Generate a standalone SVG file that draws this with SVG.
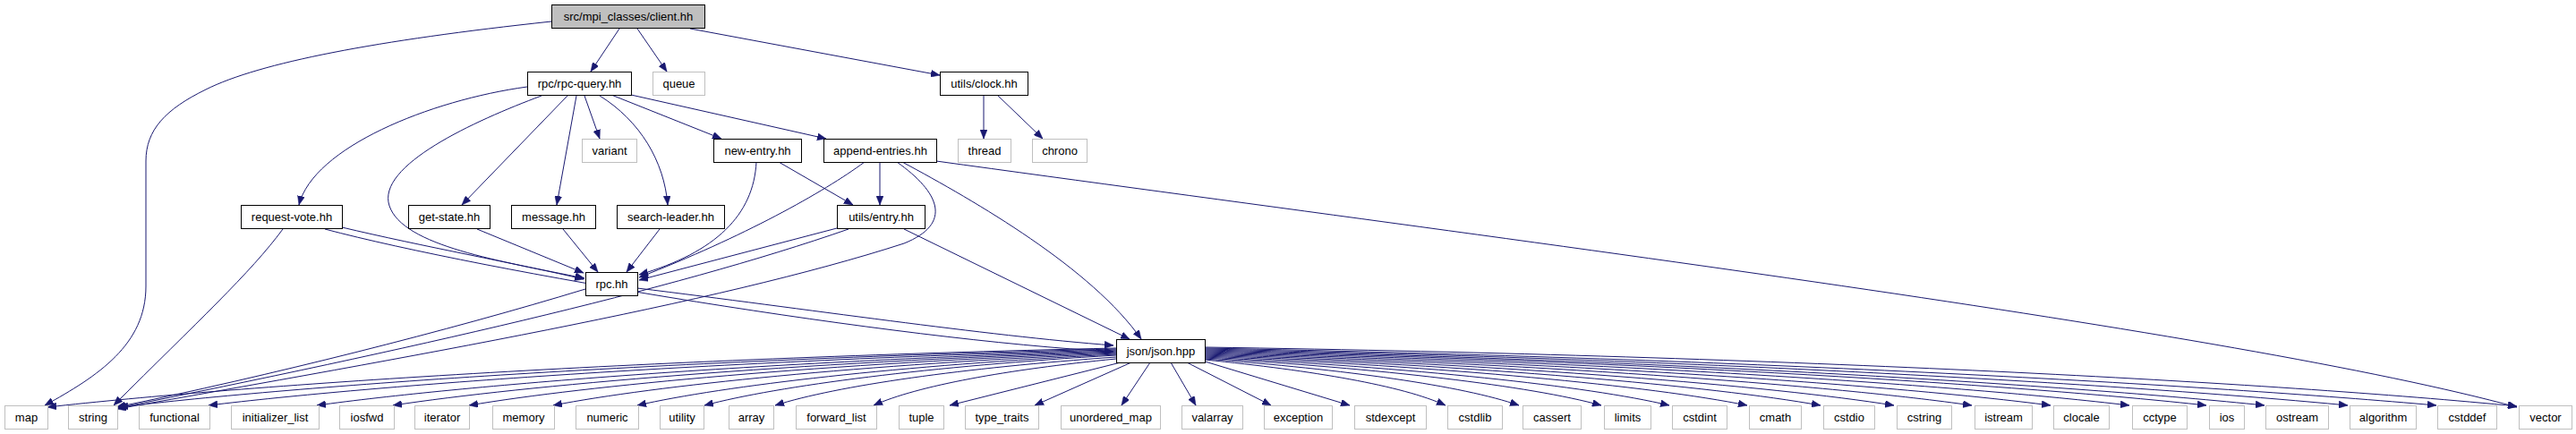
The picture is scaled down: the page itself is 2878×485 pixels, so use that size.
<svg xmlns="http://www.w3.org/2000/svg" width="2878" height="485" viewBox="0 0 2878 485">
<style>
.n rect{fill:#fff;stroke:#000;stroke-width:1}
.x rect{fill:#fff;stroke:#bfbfbf;stroke-width:1}
.root rect{fill:#bfbfbf;stroke:#000;stroke-width:1}
text{font-family:"Liberation Sans",Arial,sans-serif;font-size:13px;fill:#000;text-anchor:middle}
.e path{fill:none;stroke:#191970;stroke-width:1;marker-end:url(#ah)}
</style>
<defs>
<marker id="ah" viewBox="0 0 10 8" refX="10" refY="4" markerWidth="10" markerHeight="8" markerUnits="userSpaceOnUse" orient="auto">
<path d="M0,0 L10,4 L0,8 z" fill="#191970" stroke="#191970" stroke-width="0.5"/>
</marker>
</defs>
<rect width="2878" height="485" fill="#fff"/>
<g id="edges" class="e">
<path d="M616,24 C420,45 290,70 230,100 C185,122 163,145 163,180 L163,320 C163,385 110,420 50,453"/>
<path d="M692,32 L660,80"/>
<path d="M712,32 L745,80"/>
<path d="M771,32 L1050,84"/>
<path d="M589,97 C480,112 350,165 334,229"/>
<path d="M605,107 C530,135 420,185 435,230 C450,275 560,292 653,311"/>
<path d="M634,107 L516,229"/>
<path d="M644,107 L622,229"/>
<path d="M653,107 L670,155"/>
<path d="M670,107 C715,135 742,180 746,229"/>
<path d="M683,106 L806,155"/>
<path d="M705,106 L923,155"/>
<path d="M1099,106 L1099,155"/>
<path d="M1114,106 L1165,155"/>
<path d="M870,181 L953,229"/>
<path d="M983,181 L983,229"/>
<path d="M845,181 C842,240 800,282 714,307"/>
<path d="M966,181 C920,215 830,265 714,310"/>
<path d="M1002,181 C1050,215 1065,250 1010,272 C800,340 450,400 131,457"/>
<path d="M1008,181 C1090,225 1220,300 1275,379"/>
<path d="M1046,180 C1700,270 2500,370 2812,455"/>
<path d="M382,254 C470,275 580,295 652,312"/>
<path d="M363,256 C540,303 1000,380 1244,393"/>
<path d="M316,256 C280,305 220,360 127,453"/>
<path d="M533,256 L652,305"/>
<path d="M629,256 L668,304"/>
<path d="M737,256 L700,304"/>
<path d="M935,255 L714,313"/>
<path d="M948,256 C750,325 450,392 131,456"/>
<path d="M1010,256 L1262,379"/>
<path d="M654,323 C500,370 300,420 130,455"/>
<path d="M712,322 C900,345 1100,375 1244,386"/>
<path d="M1247,389 C709,401 267,431 53,455"/>
<path d="M1247,390 C746,402 333,431 133,455"/>
<path d="M1247,391 C791,403 415,431 233,453"/>
<path d="M1247,392 C845,404 515,431 354,453"/>
<path d="M1247,393 C883,405 584,431 439,453"/>
<path d="M1247,394 C922,406 654,431 524,453"/>
<path d="M1247,395 C964,407 731,431 618,453"/>
<path d="M1247,396 C1006,408 809,431 712,453"/>
<path d="M1247,397 C1040,409 870,431 787,453"/>
<path d="M1247,399 C1076,411 935,431 866,453"/>
<path d="M1247,401 C1125,413 1025,431 976,453"/>
<path d="M1252,405 L1061,453"/>
<path d="M1264,405 L1156,453"/>
<path d="M1285,405 L1253,453"/>
<path d="M1308,405 L1336,453"/>
<path d="M1326,405 L1420,453"/>
<path d="M1343,403 L1508,453"/>
<path d="M1346,402 C1467,414 1567,431 1615,453"/>
<path d="M1346,401 C1504,413 1634,431 1697,453"/>
<path d="M1346,400 C1545,412 1709,431 1789,453"/>
<path d="M1346,399 C1580,411 1772,431 1865,453"/>
<path d="M1346,398 C1619,410 1843,431 1952,453"/>
<path d="M1346,397 C1656,409 1910,431 2034,453"/>
<path d="M1346,396 C1693,408 1977,431 2116,453"/>
<path d="M1346,395 C1732,407 2049,431 2203,453"/>
<path d="M1346,394 C1771,406 2121,431 2291,453"/>
<path d="M1346,393 C1811,405 2193,431 2379,453"/>
<path d="M1346,392 C1850,404 2264,431 2465,453"/>
<path d="M1346,391 C1879,403 2317,431 2530,453"/>
<path d="M1346,390 C1921,402 2393,431 2623,453"/>
<path d="M1346,389 C1965,401 2474,431 2722,453"/>
<path d="M1346,388 C2006,398 2548,428 2812,454"/>
</g>
<g id="node-client" class="root"><rect x="616.5" y="5.5" width="171" height="26"/><text x="702" y="22.5">src/mpi_classes/client.hh</text></g>
<g id="node-rpc-query" class="n"><rect x="589.5" y="80.5" width="116" height="26"/><text x="647.5" y="97.5">rpc/rpc-query.hh</text></g>
<g id="node-queue" class="x"><rect x="729.5" y="80.5" width="58" height="26"/><text x="758.5" y="97.5">queue</text></g>
<g id="node-clock" class="n"><rect x="1050.5" y="80.5" width="98" height="26"/><text x="1099.5" y="97.5">utils/clock.hh</text></g>
<g id="node-variant" class="x"><rect x="650.5" y="155.5" width="61" height="26"/><text x="681" y="172.5">variant</text></g>
<g id="node-new-entry" class="n"><rect x="797.5" y="155.5" width="98" height="26"/><text x="846.5" y="172.5">new-entry.hh</text></g>
<g id="node-append-entries" class="n"><rect x="920.5" y="155.5" width="126" height="26"/><text x="983.5" y="172.5">append-entries.hh</text></g>
<g id="node-thread" class="x"><rect x="1070.5" y="155.5" width="59" height="26"/><text x="1100" y="172.5">thread</text></g>
<g id="node-chrono" class="x"><rect x="1153.5" y="155.5" width="61" height="26"/><text x="1184" y="172.5">chrono</text></g>
<g id="node-request-vote" class="n"><rect x="269.5" y="229.5" width="113" height="26"/><text x="326" y="246.5">request-vote.hh</text></g>
<g id="node-get-state" class="n"><rect x="456.5" y="229.5" width="91" height="26"/><text x="502" y="246.5">get-state.hh</text></g>
<g id="node-message" class="n"><rect x="571.5" y="229.5" width="94" height="26"/><text x="618.5" y="246.5">message.hh</text></g>
<g id="node-search-leader" class="n"><rect x="689.5" y="229.5" width="120" height="26"/><text x="749.5" y="246.5">search-leader.hh</text></g>
<g id="node-entry" class="n"><rect x="935.5" y="229.5" width="98" height="26"/><text x="984.5" y="246.5">utils/entry.hh</text></g>
<g id="node-rpc" class="n"><rect x="654.5" y="304.5" width="58" height="26"/><text x="683.5" y="321.5">rpc.hh</text></g>
<g id="node-json" class="n"><rect x="1247.5" y="379.5" width="99" height="26"/><text x="1297" y="396.5">json/json.hpp</text></g>
<g id="node-map" class="x"><rect x="5.5" y="453.5" width="48" height="26"/><text x="29.5" y="470.5">map</text></g>
<g id="node-string" class="x"><rect x="76.5" y="453.5" width="55" height="26"/><text x="104" y="470.5">string</text></g>
<g id="node-functional" class="x"><rect x="155.5" y="453.5" width="79" height="26"/><text x="195" y="470.5">functional</text></g>
<g id="node-initializer_list" class="x"><rect x="258.5" y="453.5" width="98" height="26"/><text x="307.5" y="470.5">initializer_list</text></g>
<g id="node-iosfwd" class="x"><rect x="379.5" y="453.5" width="61" height="26"/><text x="410" y="470.5">iosfwd</text></g>
<g id="node-iterator" class="x"><rect x="463.5" y="453.5" width="61" height="26"/><text x="494" y="470.5">iterator</text></g>
<g id="node-memory" class="x"><rect x="550.5" y="453.5" width="69" height="26"/><text x="585" y="470.5">memory</text></g>
<g id="node-numeric" class="x"><rect x="643.5" y="453.5" width="70" height="26"/><text x="678.5" y="470.5">numeric</text></g>
<g id="node-utility" class="x"><rect x="737.5" y="453.5" width="49" height="26"/><text x="762" y="470.5">utility</text></g>
<g id="node-array" class="x"><rect x="814.5" y="453.5" width="50" height="26"/><text x="839.5" y="470.5">array</text></g>
<g id="node-forward_list" class="x"><rect x="889.5" y="453.5" width="90" height="26"/><text x="934.5" y="470.5">forward_list</text></g>
<g id="node-tuple" class="x"><rect x="1004.5" y="453.5" width="50" height="26"/><text x="1029.5" y="470.5">tuple</text></g>
<g id="node-type_traits" class="x"><rect x="1078.5" y="453.5" width="82" height="26"/><text x="1119.5" y="470.5">type_traits</text></g>
<g id="node-unordered_map" class="x"><rect x="1185.5" y="453.5" width="111" height="26"/><text x="1241" y="470.5">unordered_map</text></g>
<g id="node-valarray" class="x"><rect x="1320.5" y="453.5" width="68" height="26"/><text x="1354.5" y="470.5">valarray</text></g>
<g id="node-exception" class="x"><rect x="1412.5" y="453.5" width="76" height="26"/><text x="1450.5" y="470.5">exception</text></g>
<g id="node-stdexcept" class="x"><rect x="1513.5" y="453.5" width="80" height="26"/><text x="1553.5" y="470.5">stdexcept</text></g>
<g id="node-cstdlib" class="x"><rect x="1617.5" y="453.5" width="61" height="26"/><text x="1648" y="470.5">cstdlib</text></g>
<g id="node-cassert" class="x"><rect x="1701.5" y="453.5" width="65" height="26"/><text x="1734" y="470.5">cassert</text></g>
<g id="node-limits" class="x"><rect x="1792.5" y="453.5" width="52" height="26"/><text x="1818.5" y="470.5">limits</text></g>
<g id="node-cstdint" class="x"><rect x="1868.5" y="453.5" width="61" height="26"/><text x="1899" y="470.5">cstdint</text></g>
<g id="node-cmath" class="x"><rect x="1954.5" y="453.5" width="58" height="26"/><text x="1983.5" y="470.5">cmath</text></g>
<g id="node-cstdio" class="x"><rect x="2037.5" y="453.5" width="57" height="26"/><text x="2066" y="470.5">cstdio</text></g>
<g id="node-cstring" class="x"><rect x="2119.5" y="453.5" width="61" height="26"/><text x="2150" y="470.5">cstring</text></g>
<g id="node-istream" class="x"><rect x="2206.5" y="453.5" width="64" height="26"/><text x="2238.5" y="470.5">istream</text></g>
<g id="node-clocale" class="x"><rect x="2294.5" y="453.5" width="62" height="26"/><text x="2325.5" y="470.5">clocale</text></g>
<g id="node-cctype" class="x"><rect x="2382.5" y="453.5" width="61" height="26"/><text x="2413" y="470.5">cctype</text></g>
<g id="node-ios" class="x"><rect x="2468.5" y="453.5" width="39" height="26"/><text x="2488" y="470.5">ios</text></g>
<g id="node-ostream" class="x"><rect x="2531.5" y="453.5" width="70" height="26"/><text x="2566.5" y="470.5">ostream</text></g>
<g id="node-algorithm" class="x"><rect x="2625.5" y="453.5" width="74" height="26"/><text x="2662.5" y="470.5">algorithm</text></g>
<g id="node-cstddef" class="x"><rect x="2723.5" y="453.5" width="66" height="26"/><text x="2756.5" y="470.5">cstddef</text></g>
<g id="node-vector" class="x"><rect x="2814.5" y="453.5" width="59" height="26"/><text x="2844" y="470.5">vector</text></g>
</svg>
